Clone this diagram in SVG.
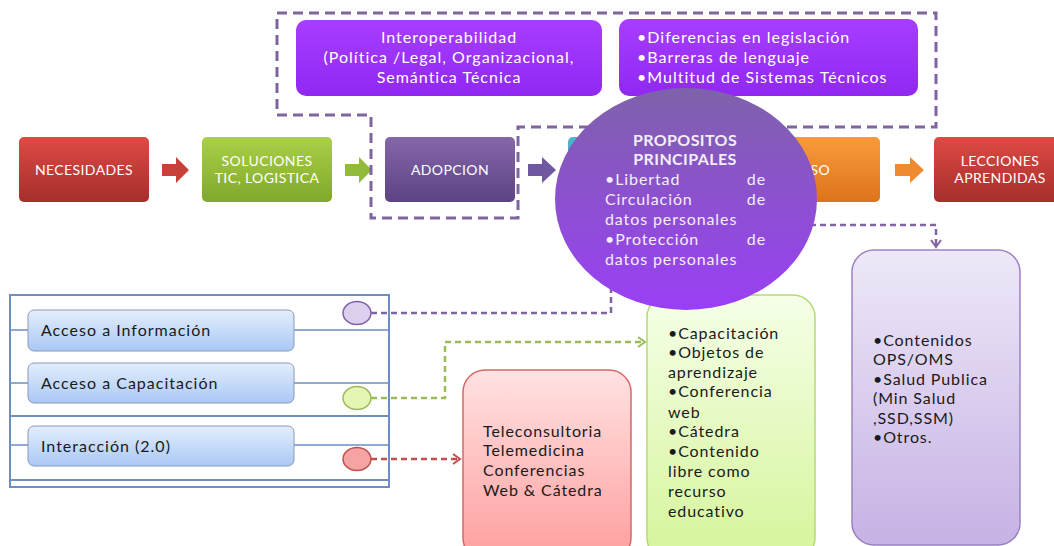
<svg xmlns="http://www.w3.org/2000/svg" width="1054" height="546" viewBox="0 0 1054 546">
<style>
text{font-family:Lato,"Open Sans","Liberation Sans",sans-serif;}
.hdr{fill:#ffffff;font-size:14px;letter-spacing:0.4px;text-anchor:middle;}
.wt{fill:#ffffff;font-size:16px;letter-spacing:1px;}
.bk{fill:#1a1a1a;font-size:16px;letter-spacing:0.9px;}
.btn{fill:#1a1a1a;font-size:16px;letter-spacing:1px;}
.ct{fill:#f4eefa;font-size:16px;letter-spacing:0.9px;}
.frame{fill:none;stroke:#8064a2;stroke-width:3;stroke-dasharray:10 6;}
.pl{fill:none;stroke:#6f8fc4;stroke-width:1.5;}
.cp{fill:none;stroke:#8064a2;stroke-width:2.5;stroke-dasharray:6 4;}
.cg{fill:none;stroke:#9bbb59;stroke-width:2.5;stroke-dasharray:6 4;}
.cr{fill:none;stroke:#c0504d;stroke-width:2.5;stroke-dasharray:6 4;}
</style>
<defs>
<linearGradient id="gRed" x1="0" y1="0" x2="0" y2="1"><stop offset="0" stop-color="#de4a44"/><stop offset="1" stop-color="#a52e2b"/></linearGradient>
<linearGradient id="gGreen" x1="0" y1="0" x2="0" y2="1"><stop offset="0" stop-color="#a9d046"/><stop offset="1" stop-color="#82a82c"/></linearGradient>
<linearGradient id="gPurp" x1="0" y1="0" x2="0" y2="1"><stop offset="0" stop-color="#8567ab"/><stop offset="1" stop-color="#5c4383"/></linearGradient>
<linearGradient id="gCyan" x1="0" y1="0" x2="0" y2="1"><stop offset="0" stop-color="#4fb5d0"/><stop offset="1" stop-color="#2f8ea8"/></linearGradient>
<linearGradient id="gOrange" x1="0" y1="0" x2="0" y2="1"><stop offset="0" stop-color="#fa9a3c"/><stop offset="1" stop-color="#dd741c"/></linearGradient>
<linearGradient id="gViolet" x1="0" y1="0" x2="0" y2="1"><stop offset="0" stop-color="#a63dff"/><stop offset="1" stop-color="#9128f2"/></linearGradient>
<linearGradient id="gCircle" x1="0" y1="0" x2="0" y2="1"><stop offset="0" stop-color="#7e62aa"/><stop offset="1" stop-color="#9a3ff5"/></linearGradient>
<linearGradient id="gPink" x1="0" y1="0" x2="0" y2="1"><stop offset="0" stop-color="#ffe2e2"/><stop offset="1" stop-color="#ff9e9e"/></linearGradient>
<linearGradient id="gLime" x1="0" y1="0" x2="0" y2="1"><stop offset="0" stop-color="#f5ffe8"/><stop offset="1" stop-color="#d5f59a"/></linearGradient>
<linearGradient id="gLav" x1="0" y1="0" x2="0" y2="1"><stop offset="0" stop-color="#eee8f8"/><stop offset="1" stop-color="#c6b2e4"/></linearGradient>
<linearGradient id="gBtn" x1="0" y1="0" x2="0" y2="1"><stop offset="0" stop-color="#e4eefc"/><stop offset="1" stop-color="#a9c8f5"/></linearGradient>
<marker id="aP" markerWidth="12" markerHeight="12" refX="9" refY="6" orient="auto" markerUnits="userSpaceOnUse"><path d="M2,1 L9,6 L2,11" fill="none" stroke="#8064a2" stroke-width="2"/></marker>
<marker id="aG" markerWidth="12" markerHeight="12" refX="9" refY="6" orient="auto" markerUnits="userSpaceOnUse"><path d="M2,1 L9,6 L2,11" fill="none" stroke="#9bbb59" stroke-width="2"/></marker>
<marker id="aR" markerWidth="12" markerHeight="12" refX="9" refY="6" orient="auto" markerUnits="userSpaceOnUse"><path d="M2,1 L9,6 L2,11" fill="none" stroke="#c0504d" stroke-width="2"/></marker>
</defs>
<rect width="1054" height="546" fill="#ffffff"/>

<!-- top purple boxes -->
<g id="interop">
<rect x="296" y="20" width="306" height="76" rx="10" fill="url(#gViolet)"/>
<text class="wt" x="449" y="43" text-anchor="middle">Interoperabilidad</text>
<text class="wt" x="449" y="63" text-anchor="middle">(Política /Legal, Organizacional,</text>
<text class="wt" x="449" y="83" text-anchor="middle">Semántica Técnica</text>
</g>
<g id="barreras">
<rect x="619" y="19" width="299" height="77" rx="10" fill="url(#gViolet)"/>
<text class="wt" x="637" y="43">•Diferencias en legislación</text>
<text class="wt" x="637" y="63">•Barreras de lenguaje</text>
<text class="wt" x="637" y="83">•Multitud de Sistemas Técnicos</text>
</g>

<!-- process row -->
<g id="necesidades">
<rect x="19" y="137" width="130" height="65" rx="5" fill="url(#gRed)"/>
<text class="hdr" x="84" y="175">NECESIDADES</text>
</g>
<g id="soluciones">
<rect x="202" y="137" width="130" height="65" rx="5" fill="url(#gGreen)"/>
<text class="hdr" x="267" y="166">SOLUCIONES</text>
<text class="hdr" x="267" y="183">TIC, LOGISTICA</text>
</g>
<g id="adopcion">
<rect x="385" y="137" width="130" height="65" rx="5" fill="url(#gPurp)"/>
<text class="hdr" x="450" y="175">ADOPCION</text>
</g>
<g id="cyanbox">
<rect x="568" y="137" width="130" height="65" rx="5" fill="url(#gCyan)"/>
</g>
<g id="uso">
<rect x="751" y="137" width="129" height="65" rx="5" fill="url(#gOrange)"/>
<text class="hdr" x="815" y="175">USO</text>
</g>
<g id="lecciones">
<rect x="934" y="137" width="126" height="65" rx="5" fill="url(#gRed)"/>
<text class="hdr" x="1000" y="166">LECCIONES</text>
<text class="hdr" x="1000" y="183">APRENDIDAS</text>
</g>

<!-- block arrows -->
<g id="arrows">
<polygon points="162,164 176,164 176,157 189,170 176,183 176,176 162,176" fill="#c8403a"/>
<polygon points="345,164 359,164 359,157 372,170 359,183 359,176 345,176" fill="#92bb3a"/>
<polygon points="528,164 542,164 542,157 556,170 542,183 542,176 528,176" fill="#7058a0"/>
<polygon points="895,164 910,164 910,157 924,170 910,183 910,176 895,176" fill="#f08a30"/>
</g>

<!-- dashed frame -->
<g id="frame">
<path class="frame" d="M277,13 H936 V127 H518 V218 H371 V115 H277 Z"/>
</g>

<!-- bottom boxes -->
<g id="tele">
<rect x="463" y="370" width="168" height="190" rx="22" fill="url(#gPink)" stroke="#d46a6a" stroke-width="1.5"/>
<text class="bk" x="483" y="437">Teleconsultoria</text>
<text class="bk" x="483" y="456">Telemedicina</text>
<text class="bk" x="483" y="476">Conferencias</text>
<text class="bk" x="483" y="496">Web &amp; Cátedra</text>
</g>
<g id="capacitacion">
<rect x="647" y="295" width="168" height="265" rx="22" fill="url(#gLime)" stroke="#b8d878" stroke-width="1.5"/>
<text class="bk" x="668" y="339">•Capacitación</text>
<text class="bk" x="668" y="358">•Objetos de</text>
<text class="bk" x="668" y="378">aprendizaje</text>
<text class="bk" x="668" y="397">•Conferencia</text>
<text class="bk" x="668" y="418">web</text>
<text class="bk" x="668" y="437">•Cátedra</text>
<text class="bk" x="668" y="457">•Contenido</text>
<text class="bk" x="668" y="477">libre como</text>
<text class="bk" x="668" y="497">recurso</text>
<text class="bk" x="668" y="517">educativo</text>
</g>
<g id="contenidos">
<rect x="852" y="250" width="168" height="295" rx="22" fill="url(#gLav)" stroke="#9a82c2" stroke-width="1.5"/>
<text class="bk" x="873" y="346">•Contenidos</text>
<text class="bk" x="873" y="365">OPS/OMS</text>
<text class="bk" x="873" y="385">•Salud Publica</text>
<text class="bk" x="873" y="404">(Min Salud</text>
<text class="bk" x="873" y="424">,SSD,SSM)</text>
<text class="bk" x="873" y="443">•Otros.</text>
</g>

<!-- left panel -->
<g id="panel">
<rect x="10" y="295" width="379" height="192" fill="#ffffff" stroke="#6f8fc4" stroke-width="2"/>
<path class="pl" d="M10,330 H28 M294,330 H389 M10,383 H28 M294,383 H389 M10,445 H28 M294,445 H389"/>
<path d="M10,416 H389 M10,480 H389" fill="none" stroke="#6f8fc4" stroke-width="2"/>
</g>
<g id="btn-info">
<rect x="28" y="310" width="266" height="41" rx="6" fill="url(#gBtn)" stroke="#8a9ab8" stroke-width="1"/>
<text class="btn" x="41" y="336">Acceso a Información</text>
</g>
<g id="btn-cap">
<rect x="28" y="363" width="266" height="40" rx="6" fill="url(#gBtn)" stroke="#8a9ab8" stroke-width="1"/>
<text class="btn" x="41" y="389">Acceso a Capacitación</text>
</g>
<g id="btn-int">
<rect x="28" y="426" width="266" height="40" rx="6" fill="url(#gBtn)" stroke="#8a9ab8" stroke-width="1"/>
<text class="btn" x="41" y="452">Interacción (2.0)</text>
</g>
<g id="dot-purple"><ellipse cx="357" cy="313" rx="14" ry="11.5" fill="#ddd0ee" stroke="#8060a8" stroke-width="1.5"/></g>
<g id="dot-green"><ellipse cx="357" cy="398" rx="14" ry="11.5" fill="#e4f5b4" stroke="#9bbb59" stroke-width="1.5"/></g>
<g id="dot-red"><ellipse cx="357" cy="459" rx="14" ry="11.5" fill="#f5a3a3" stroke="#c0504d" stroke-width="1.5"/></g>

<!-- connectors -->
<g id="connectors">
<path class="cp" d="M371,313 H611 V285"/>
<path class="cp" d="M790,225 H936 V247" marker-end="url(#aP)"/>
<path class="cg" d="M371,398 H445 V342 H645" marker-end="url(#aG)"/>
<path class="cr" d="M371,459 H460" marker-end="url(#aR)"/>
</g>

<!-- circle -->
<g id="propositos">
<ellipse cx="686" cy="199" rx="131" ry="111" fill="url(#gCircle)"/>
<text x="685" y="146" fill="#f4eefa" font-size="16" font-weight="bold" letter-spacing="0.4" text-anchor="middle">PROPOSITOS</text>
<text x="685" y="165" fill="#f4eefa" font-size="16" font-weight="bold" letter-spacing="0.4" text-anchor="middle">PRINCIPALES</text>
<text class="ct" x="605" y="185">•Libertad</text><text class="ct" x="766" y="185" text-anchor="end">de</text>
<text class="ct" x="605" y="205">Circulación</text><text class="ct" x="766" y="205" text-anchor="end">de</text>
<text class="ct" x="605" y="225">datos personales</text>
<text class="ct" x="605" y="245">•Protección</text><text class="ct" x="766" y="245" text-anchor="end">de</text>
<text class="ct" x="605" y="265">datos personales</text>
</g>
</svg>
